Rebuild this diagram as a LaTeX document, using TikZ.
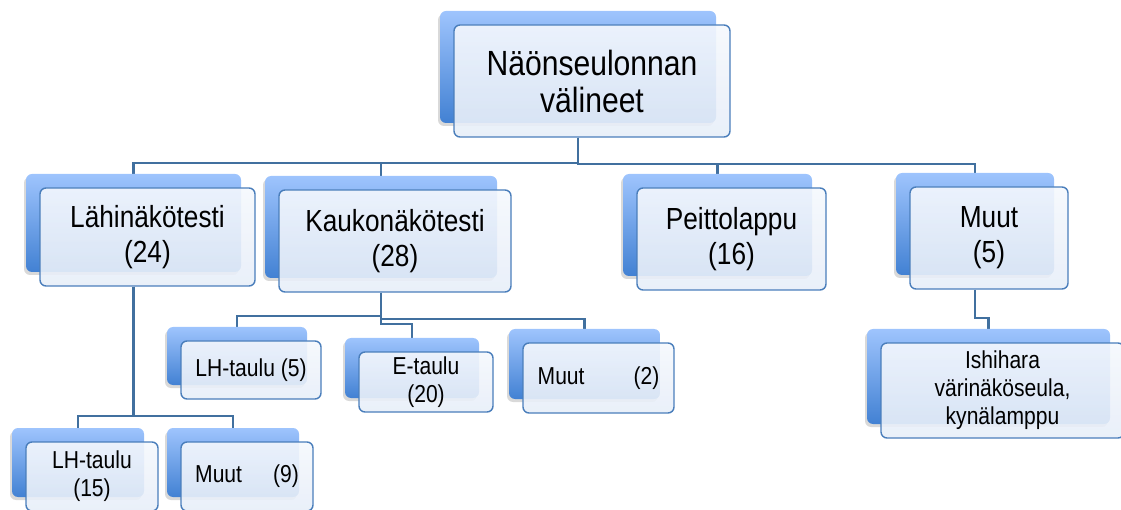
\documentclass[tikz,border=0pt]{standalone}
\usepackage{fontspec}
\setmainfont{Liberation Sans}[FakeStretch=0.86]
\usetikzlibrary{shadows, backgrounds}

\definecolor{backtop}{HTML}{9EC4FD}
\definecolor{backbottom}{HTML}{4281D3}
\definecolor{fronttop}{HTML}{F5F8FD}
\definecolor{frontbottom}{HTML}{E7EEF8}
\definecolor{boxline}{HTML}{4A7EBB}
\definecolor{connline}{HTML}{41709F}

\tikzset{
	smartbox/.style={draw=boxline, line width=1.4pt, rounded corners=6pt, align=center, inner sep=0pt,
		top color=fronttop, bottom color=frontbottom, fill opacity=0.9, text opacity=1, text=black,
		general shadow={shadow xshift=-16pt, shadow yshift=11pt, fill=black, fill opacity=0.15, draw=none},
		general shadow={shadow xshift=-14pt, shadow yshift=14pt, top color=backtop, bottom color=backbottom, fill opacity=1, draw=none}},
	rootfont/.style={font=\fontsize{35}{37}\selectfont},
	midfont/.style={font=\fontsize{30.5}{35}\selectfont},
	smallfont/.style={font=\fontsize{24.5}{28}\selectfont},
	conn/.style={draw=connline, line width=2.2pt},
}

\begin{document}
\begin{tikzpicture}[x=1pt, y=-1pt]
		%size of the picture
		\useasboundingbox (0,0) rectangle (1121,510);
		
		%offset of the back boxes
		\def\off{14};
		
		%top
		\node[smartbox, rootfont, minimum width=276pt, minimum height=112pt] (root) at (592,81) {Näönseulonnan\\välineet};
		
		%first level
		\node[smartbox, midfont, minimum width=215pt, minimum height=98pt] (lahi) at (147.5,237) {Lähinäkötesti\\(24)};
		\node[smartbox, midfont, minimum width=232pt, minimum height=102pt] (kauko) at (395,241) {Kaukonäkötesti\\(28)};
		\node[smartbox, midfont, minimum width=189pt, minimum height=102pt] (peitto) at (731.5,239) {Peittolappu\\(16)};
		\node[smartbox, midfont, minimum width=158pt, minimum height=102pt] (muut) at (989,238) {Muut\\(5)};
		
		%second level
		\node[smartbox, smallfont, minimum width=140pt, minimum height=58pt] (lhfive) at (251,370) {LH-taulu (5)};
		\node[smartbox, smallfont, minimum width=134pt, minimum height=60pt] (etaulu) at (426,382) {E-taulu\\(20)};
		\node[smartbox, smallfont, minimum width=151pt, minimum height=70pt] (muuttwo) at (598.5,378) {Muut\hspace{49pt}(2)};
		\node[smartbox, smallfont, minimum width=243pt, minimum height=95pt] (ishihara) at (1002.5,390.5) {Ishihara\\värinäköseula,\\kynälamppu};
		\node[smartbox, smallfont, minimum width=132pt, minimum height=69pt] (lhfifteen) at (92,476.5) {LH-taulu\\(15)};
		\node[smartbox, smallfont, minimum width=132pt, minimum height=69pt] (muutnine) at (247,476.5) {Muut\hspace{31pt}(9)};
		
		%connectors
		\begin{pgfonlayer}{background}
			\draw[conn] ([xshift=-\off pt]root.south) -- ++(0,25) -| ([xshift=-\off pt]lahi.north);
			\draw[conn] ([xshift=-\off pt]root.south) -- ++(0,25) -| ([xshift=-\off pt]kauko.north);
			\draw[conn] ([xshift=-\off pt]root.south) -- ++(0,26) -| ([xshift=-\off pt]peitto.north);
			\draw[conn] ([xshift=-\off pt]root.south) -- ++(0,26) -| ([xshift=-\off pt]muut.north);
			
			\draw[conn] ([xshift=-\off pt]kauko.south) -- ++(0,23) -| ([xshift=-\off pt]lhfive.north);
			\draw[conn] ([xshift=-\off pt]kauko.south) -- ++(0,31) -| ([xshift=-\off pt]etaulu.north);
			\draw[conn] ([xshift=-\off pt]kauko.south) -- ++(0,26) -| ([xshift=-\off pt]muuttwo.north);
			
			\draw[conn] ([xshift=-\off pt]lahi.south) -- ++(0,129) -| ([xshift=-\off pt]lhfifteen.north);
			\draw[conn] ([xshift=-\off pt]lahi.south) -- ++(0,129) -| ([xshift=-\off pt]muutnine.north);
			
			\draw[conn] ([xshift=-\off pt]muut.south) -- ++(0,28) -| ([xshift=-\off pt]ishihara.north);
		\end{pgfonlayer}
		
	\end{tikzpicture}
\end{document}
